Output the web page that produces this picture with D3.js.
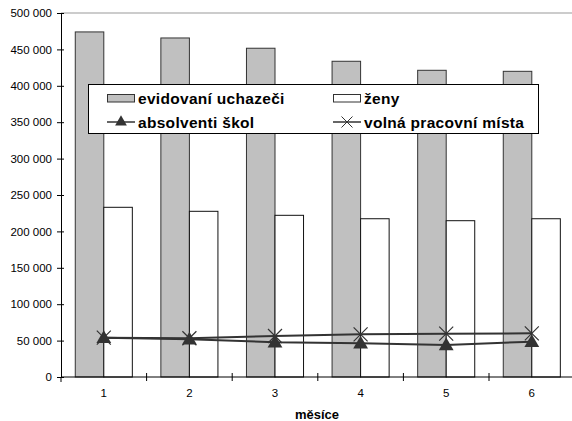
<!DOCTYPE html>
<html><head><meta charset="utf-8">
<script src="https://cdn.jsdelivr.net/npm/d3@7"></script>
<style>body{margin:0;background:#fff}svg{display:block}text{font-family:"Liberation Sans",Arial,sans-serif}</style>
</head><body>
<script>
const months = ["1","2","3","4","5","6"];
const evidovani = [474000, 465700, 451600, 433700, 421300, 419900];
const zeny = [233100, 227600, 222100, 217400, 214700, 217400];
const absolventi = [54000, 51800, 47700, 46300, 44000, 48500];
const volna = [54000, 53200, 56300, 58600, 59500, 60000];
const yTicks = [0,50000,100000,150000,200000,250000,300000,350000,400000,450000,500000];

const W=572,H=421;
const svg=d3.select("body").append("svg").attr("width",W).attr("height",H);
const x=d3.scaleBand().domain(months).range([61,574.6]).paddingInner(0).paddingOuter(0);
const y=d3.scaleLinear().domain([0,500000]).range([377,13]);
const fmt=v=>d3.format(",")(v).replace(/,/g," ");
const bw=x.bandwidth()/3;

svg.append("line").attr("x1",61).attr("x2",W).attr("y1",y(500000)).attr("y2",y(500000)).attr("stroke","#999").attr("stroke-width",1);

svg.append("g").selectAll("rect").data(months).join("rect")
  .attr("x",d=>x(d)+bw/2).attr("y",(d,i)=>y(evidovani[i])).attr("width",bw).attr("height",(d,i)=>y(0)-y(evidovani[i]))
  .attr("fill","#c0c0c0").attr("stroke","#333").attr("stroke-width",1);
svg.append("g").selectAll("rect").data(months).join("rect")
  .attr("x",d=>x(d)+bw*1.5).attr("y",(d,i)=>y(zeny[i])).attr("width",bw).attr("height",(d,i)=>y(0)-y(zeny[i]))
  .attr("fill","#fff").attr("stroke","#111").attr("stroke-width",1);

const ya=svg.append("g").attr("transform","translate(61,0)").call(d3.axisLeft(y).tickValues(yTicks).tickFormat(fmt).tickSize(0).tickPadding(9));
ya.select(".domain").attr("stroke","#000");
ya.selectAll(".tick line").attr("x1",-4).attr("x2",3).attr("stroke","#000");
ya.selectAll("text").attr("font-size","11.5px").attr("fill","#000");

const xa=svg.append("g").attr("transform","translate(0,377)").call(d3.axisBottom(x).tickSize(0).tickPadding(12));
xa.select(".domain").attr("stroke","#000").attr("d","M61,0H"+W);
xa.selectAll("text").attr("font-size","11.5px").attr("fill","#000");
svg.append("g").selectAll("line").data(months.slice(1)).join("line")
  .attr("x1",d=>x(d)).attr("x2",d=>x(d)).attr("y1",373).attr("y2",381).attr("stroke","#000");
svg.append("line").attr("x1",61).attr("x2",61).attr("y1",377).attr("y2",382).attr("stroke","#000");

svg.append("text").attr("x",317).attr("y",419).attr("text-anchor","middle").attr("font-size","13px").attr("font-weight","bold").text("měsíce");

const cx=(d)=>x(d)+x.bandwidth()/2;
const line=d3.line().x((v,i)=>cx(months[i])).y(v=>y(v));
svg.append("path").datum(volna).attr("d",line).attr("fill","none").attr("stroke","#333").attr("stroke-width",2);
svg.append("path").datum(absolventi).attr("d",line).attr("fill","none").attr("stroke","#333").attr("stroke-width",2);
const tri=d3.symbol().type(d3.symbolTriangle).size(95);
svg.append("g").selectAll("path").data(absolventi).join("path")
  .attr("transform",(v,i)=>`translate(${cx(months[i])},${y(v)+1})`).attr("d",tri).attr("fill","#333");
const xs=7;
svg.append("g").selectAll("path").data(volna).join("path")
  .attr("d",(v,i)=>{const a=cx(months[i]),b=y(v);return `M${a-xs},${b-xs}L${a+xs},${b+xs}M${a-xs},${b+xs}L${a+xs},${b-xs}`;})
  .attr("stroke","#333").attr("stroke-width",1.2).attr("fill","none");

const lg=svg.append("g");
lg.append("rect").attr("x",88.5).attr("y",84.5).attr("width",450).attr("height",49).attr("fill","#fff").attr("stroke","#000");
const legendItems=[
  {name:"evidovaní uchazeči",type:"bar",fill:"#c0c0c0",lx:107,ly:98},
  {name:"ženy",type:"bar",fill:"#fff",lx:333,ly:98},
  {name:"absolventi škol",type:"tri",lx:107,ly:122},
  {name:"volná pracovní místa",type:"x",lx:333,ly:122}
];
legendItems.forEach(d=>{
  if(d.type==="bar") lg.append("rect").attr("x",d.lx+0.5).attr("y",d.ly-3.5).attr("width",27).attr("height",7.5).attr("fill",d.fill).attr("stroke","#333");
  else {
    lg.append("line").attr("x1",d.lx).attr("x2",d.lx+28).attr("y1",d.ly).attr("y2",d.ly).attr("stroke","#333").attr("stroke-width",1.5);
    if(d.type==="tri") lg.append("path").attr("transform",`translate(${d.lx+14},${d.ly})`).attr("d",d3.symbol().type(d3.symbolTriangle).size(60)).attr("fill","#333");
    else { const a=d.lx+14,b=d.ly,s=5.5; lg.append("path").attr("d",`M${a-s},${b-s}L${a+s},${b+s}M${a-s},${b+s}L${a+s},${b-s}`).attr("stroke","#333").attr("stroke-width",1); }
  }
  lg.append("text").attr("x",d.lx+31).attr("y",d.ly+5.5).attr("font-size","15.5px").attr("letter-spacing","0.3px").attr("font-weight","bold").attr("fill","#000").text(d.name);
});
</script>
</body></html>
